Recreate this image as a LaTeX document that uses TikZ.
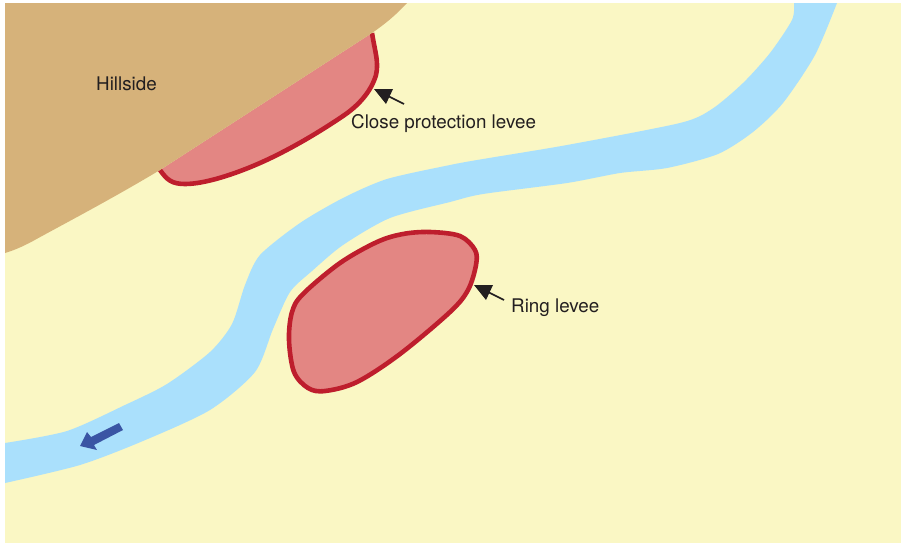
\documentclass[tikz,border=0pt]{standalone}
\usepackage{fontspec}
\setmainfont{TeX Gyre Heros}
\definecolor{land}{HTML}{FAF7C4}
\definecolor{hill}{HTML}{D6B27A}
\definecolor{river}{HTML}{AAE0FC}
\definecolor{levee}{HTML}{E38683}
\definecolor{leveeline}{HTML}{BE1E2D}
\definecolor{flow}{HTML}{3A55A4}
\definecolor{ink}{HTML}{231F20}
\tikzset{
  lab/.style={font=\fontsize{18.8pt}{22pt}\selectfont,text=ink,inner sep=0pt,anchor=base west},
  leader/.style={draw=ink,line width=1.6pt,shorten >=12pt},
  headtip/.style={fill=ink},
  leveeedge/.style={draw=leveeline,line width=4.6pt,line join=round,line cap=butt}
}
\begin{document}
\begin{tikzpicture}[x=1pt,y=-1pt]
\useasboundingbox (0,0) rectangle (901,544);
\fill[white] (0,0) rectangle (901,544);
\fill[land] (5,3) rectangle (901,543);
% river
\fill[river] plot[smooth,tension=.45] coordinates {(5,443) (67,431) (125,405) (167,384) (210,352) (232,324) (245,285) (260,255) (300,223) (343,198) (387,179) (450,165) (483,159) (567,145) (680,123) (712,109) (743,83) (770,53) (792,20) (794,3)}
  -- plot[smooth,tension=.45] coordinates {(837,3) (815,55) (783,103) (753,132) (718,154) (667,168) (620,173) (567,183) (483,194) (450,202) (390,218) (343,245) (312,271) (290,292) (273,329) (255,372) (210,410) (143,441) (80,465) (5,483)} -- cycle;
% close levee fill then hill over it
\fill[levee] (372,33) .. controls (375,52) and (379,62) .. (376,75) .. controls (371,92) and (358,106) .. (343,116) .. controls (315,135) and (285,152) .. (260,163) .. controls (235,174) and (205,184) .. (185,184) .. controls (172,184) and (167,180) .. (160,170) -- cycle;
\draw[leveeedge] (372,33) .. controls (375,52) and (379,62) .. (376,75) .. controls (371,92) and (358,106) .. (343,116) .. controls (315,135) and (285,152) .. (260,163) .. controls (235,174) and (205,184) .. (185,184) .. controls (172,184) and (167,180) .. (160,170);
\fill[hill] (5,3) -- (407,3) .. controls (396,15) and (385,24) .. (372,33) -- (160,170) .. controls (110,200) and (60,226) .. (33,241) .. controls (22,247) and (12,251) .. (5,253) -- cycle;
% ring levee
\filldraw[fill=levee,leveeedge] plot[smooth cycle,tension=.55] coordinates {(430,232) (460,236) (475,250) (476,265) (468,290) (450,312) (400,354) (357,382) (325,391) (308,388) (294,372) (289,340) (292,312) (303,294) (340,263) (377,242) (403,234)};
% flow arrow
\fill[flow] (119,423) -- (123,430) -- (94,445) -- (97,450) -- (80,446) -- (87,432) -- (91,437) -- cycle;
% labels
\node[lab] (hillside) at (96,90) {Hillside};
\node[lab] (closelab) at (351,128) {Close protection levee};
\node[lab] (ringlab) at (511,312) {Ring levee};
% leaders
\coordinate (closetip) at (374,89);
\coordinate (closetail) at (404,104);
\coordinate (ringtip) at (474,285);
\coordinate (ringtail) at (504,300);
\draw[leader] (closetail) -- (closetip);
\draw[leader] (ringtail) -- (ringtip);
\fill[headtip] (closetip) -- ++(19,0) -- ++(-7,15) -- cycle;
\fill[headtip] (ringtip) -- ++(19,0) -- ++(-7,15) -- cycle;
\end{tikzpicture}
\end{document}
